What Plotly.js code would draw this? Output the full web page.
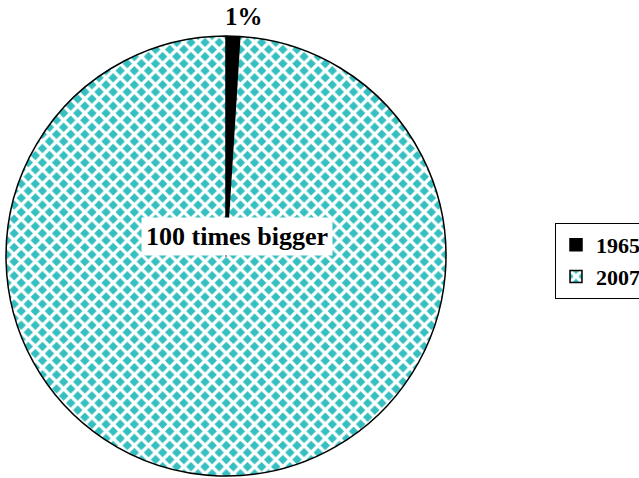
<!DOCTYPE html>
<html>
<head>
<meta charset="utf-8">
<script src="https://cdn.plot.ly/plotly-3.0.1.min.js"></script>
<style>html,body{margin:0;padding:0;background:#fff;}#chart{width:639px;height:478px;}</style>
</head>
<body>
<div id="chart"></div>
<script>
const years = ['1965', '2007'];
const shares = [1, 99];
const bigLabel = '100 times bigger';
const sliceColors = ['#000000', '#36bfc0'];

const serif = 'Liberation Serif, Times New Roman, serif';
const pct = Math.round(shares[0] / (shares[0] + shares[1]) * 100) + '%';

const trace = {
  type: 'pie',
  labels: years,
  values: shares,
  sort: false,
  direction: 'clockwise',
  rotation: 0,
  textinfo: 'none',
  hoverinfo: 'label+percent',
  domain: {x: [6/639, 446/639], y: [2/478, 442/478]},
  marker: {
    colors: sliceColors,
    line: {color: '#000', width: 1.5},
    pattern: {
      shape: ['', 'x'],
      fgcolor: ['#000', '#ffffff'],
      bgcolor: sliceColors,
      size: 10,
      solidity: 0.55,
      fillmode: 'replace'
    }
  }
};

const layout = {
  width: 639,
  height: 478,
  margin: {l: 0, r: 0, t: 0, b: 0, autoexpand: false},
  paper_bgcolor: '#fff',
  showlegend: true,
  legend: {
    x: 555/639, xanchor: 'left',
    y: 1 - 223/478, yanchor: 'top',
    bordercolor: '#000', borderwidth: 1,
    bgcolor: '#fff',
    font: {family: serif, size: 22, color: '#000', weight: 'bold'}
  },
  annotations: [
    {
      text: pct, x: 244/639, y: 1 - 17/478, xref: 'paper', yref: 'paper',
      xanchor: 'center', yanchor: 'middle',
      showarrow: false, font: {family: serif, size: 25, color: '#000', weight: 'bold'}
    },
    {
      text: bigLabel, x: 236.5/639, y: 1 - 236.5/478, xref: 'paper', yref: 'paper',
      xanchor: 'center', yanchor: 'middle',
      showarrow: false, bgcolor: '#fff', borderpad: 4,
      font: {family: serif, size: 26, color: '#000', weight: 'bold'}
    }
  ]
};

Plotly.newPlot('chart', [trace], layout, {displayModeBar: false, staticPlot: true});
</script>
</body>
</html>
